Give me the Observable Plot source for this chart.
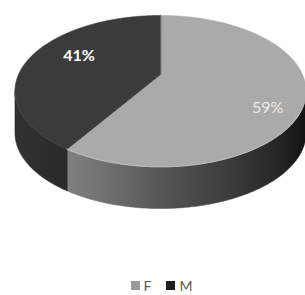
<!DOCTYPE html>
<html><head><meta charset="utf-8">
<script src="https://cdn.jsdelivr.net/npm/d3@7"></script>
<script src="https://cdn.jsdelivr.net/npm/@observablehq/plot@0.6"></script>
<style>
body{margin:0;background:#fff;font-family:Lato,"Open Sans",sans-serif;overflow:hidden;}
#legend{display:flex;justify-content:center;align-items:center;gap:15px;height:19px;padding-left:18px;font-size:14px;line-height:16px;color:#595959;}
#legend .it{display:flex;align-items:center;}
#legend .sw{display:inline-block;width:9px;height:9px;margin-right:4px;}
</style></head><body>
<div id="chart"></div>
<div id="legend"></div>
<script>
// data
const categories = ["F", "M"];
const values = [59, 41];
const labels = ["59%", "41%"];

// styling
const topColors = ["#aaaaaa", "#3b3b3b"];
const legendColors = ["#9a9a9a", "#1e1e1e"];
const labelColors = ["#ececec", "#ffffff"];
const labelWeights = ["normal", "bold"];
// wall shading stops (offset along wall from its left end to right end, grey)
const wallStops = [
  [[0, "#808080"], [0.2, "#6c6c6c"], [0.4, "#555555"], [0.68, "#3c3c3c"], [0.88, "#262626"], [1, "#121212"]],
  [[0, "#313131"], [1, "#2a2a2a"]]
];

// layout of the 3D ellipse
const CX = 160, RX = 142, CY = 74, RY = 72, K = 0.22, DEPTH = 0.58;

function proj(a, r, h) {
  const sx = r * Math.sin(a), sy = -r * Math.cos(a);
  const f = 1 / (1 - K * sy);
  return {X: sx * f, Y: sy * f + h};
}

const arcs = d3.pie().sort(null).value(d => d)(values);
const aR = Math.acos(-K), aL = 2 * Math.PI - Math.acos(-K);

// walls (front side)
const wallRows = [];
const wallExtent = [];
arcs.forEach((arc, i) => {
  const a0 = Math.max(arc.startAngle, aR), a1 = Math.min(arc.endAngle, aL);
  if (a1 <= a0) return;
  const n = Math.max(2, Math.ceil((a1 - a0) / 0.01));
  const id = "w" + i, fill = `url(#wallGrad${i})`;
  const topPts = [], botPts = [];
  for (let j = 0; j <= n; j++) {
    const b = a0 + (a1 - a0) * j / n;
    topPts.push(proj(b, 1, 0));
    botPts.push(proj(b, 1, DEPTH));
  }
  [...topPts, ...botPts.reverse()].forEach(p => wallRows.push({id, X: p.X, Y: p.Y, fill}));
  const xs = topPts.map(p => p.X);
  wallExtent[i] = [d3.min(xs), d3.max(xs)];
});

// top faces
const topRows = [];
arcs.forEach((arc, i) => {
  const id = "t" + i;
  topRows.push({id, ...proj(0, 0, 0), fill: topColors[i]});
  const n = Math.ceil((arc.endAngle - arc.startAngle) / 0.01);
  for (let j = 0; j <= n; j++) {
    const a = arc.startAngle + (arc.endAngle - arc.startAngle) * j / n;
    topRows.push({id, ...proj(a, 1, 0), fill: topColors[i]});
  }
});

// light rim on the front edge of the light slice
const rimRows = [];
{
  const arc = arcs[0];
  const a0 = Math.max(arc.startAngle, aR + 0.15), a1 = arc.endAngle;
  const n = Math.ceil((a1 - a0) / 0.01);
  for (let j = 0; j <= n; j++) rimRows.push(proj(a0 + (a1 - a0) * j / n, 1, 0));
}

// label anchors
const labelR = [0.75, 0.62];
const labelDy = [18, -7];
const labelMarks = arcs.map((arc, i) => {
  const p = proj((arc.startAngle + arc.endAngle) / 2, labelR[i], 0);
  return Plot.text([{...p, t: labels[i]}], {
    x: "X", y: "Y", text: "t", fill: labelColors[i], fontWeight: labelWeights[i],
    fontSize: 16, dy: labelDy[i], fontFamily: "Lato, 'Open Sans', sans-serif"
  });
});

const chart = Plot.plot({
  width: 305, height: 276,
  margin: 0,
  x: {domain: [-1, 1], range: [CX - RX, CX + RX], axis: null},
  y: {domain: [-1, 1], range: [CY - RY, CY + RY], axis: null},
  color: {type: "identity"},
  marks: [
    Plot.line(wallRows, {x: "X", y: "Y", z: "id", fill: "fill", stroke: "fill", strokeWidth: 0.5, curve: "linear-closed"}),
    Plot.line(topRows, {x: "X", y: "Y", z: "id", fill: "fill", stroke: "fill", strokeWidth: 0.6, curve: "linear-closed"}),
    Plot.line(rimRows, {x: "X", y: "Y", stroke: "#c2c2c2", strokeWidth: 1.1, strokeOpacity: 0.8}),
    ...labelMarks
  ]
});

// gradients for the walls, positioned with the x scale
const xs = chart.scale("x");
const defs = d3.select(chart).insert("defs", ":first-child");
wallStops.forEach((stops, i) => {
  if (!wallExtent[i]) return;
  const g = defs.append("linearGradient")
    .attr("id", "wallGrad" + i)
    .attr("gradientUnits", "userSpaceOnUse")
    .attr("x1", xs.apply(wallExtent[i][0])).attr("x2", xs.apply(wallExtent[i][1]))
    .attr("y1", 0).attr("y2", 0);
  stops.forEach(([o, c]) => g.append("stop").attr("offset", o).attr("stop-color", c));
});
document.getElementById("chart").appendChild(chart);

const leg = document.getElementById("legend");
categories.forEach((c, i) => {
  const it = document.createElement("div");
  it.className = "it";
  const sw = document.createElement("span");
  sw.className = "sw";
  sw.style.background = legendColors[i];
  it.appendChild(sw);
  it.appendChild(document.createTextNode(c));
  leg.appendChild(it);
});
</script>
</body></html>
